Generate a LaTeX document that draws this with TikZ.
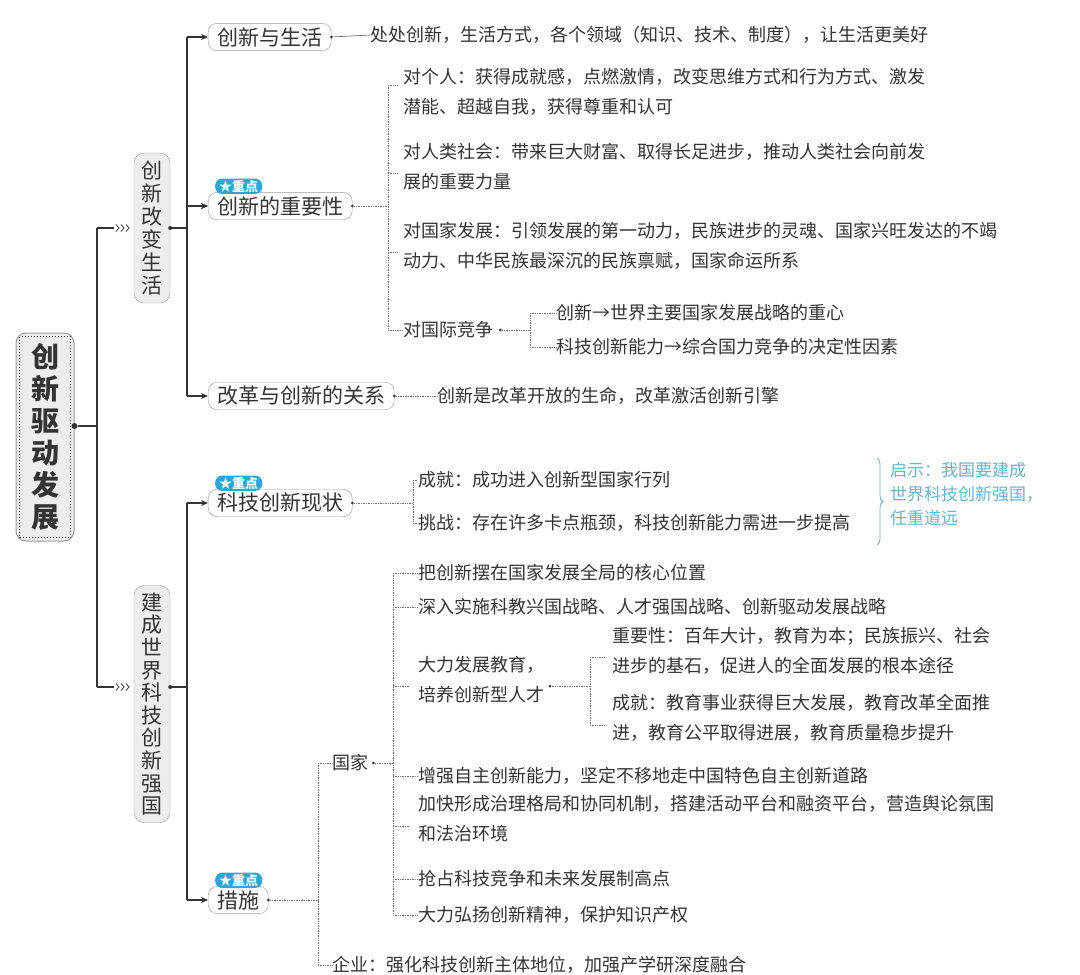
\documentclass[tikz,border=0pt]{standalone}
\usepackage{fontspec}
\setmainfont{Noto Sans CJK SC}
\usetikzlibrary{arrows.meta,decorations.pathreplacing}
\definecolor{ln}{HTML}{333333}
\definecolor{bd}{HTML}{9A9A9A}
\definecolor{bl}{HTML}{2AA7DA}
\definecolor{hw}{HTML}{5FB6D4}
\tikzset{
 txt/.style={anchor=west,inner sep=0pt,font=\fontsize{18}{30}\selectfont,text=ln,align=left},
 topic/.style={draw=bd,rounded corners=9pt,fill=white,inner xsep=9pt,inner ysep=4pt,font=\fontsize{21}{24}\selectfont,text=ln},
 vbox/.style={draw=bd,rounded corners=10pt,fill=black!7,inner xsep=5pt,inner ysep=7pt,align=center,text=ln},
 main/.style={ln,line width=1.2pt},
 arr/.style={main,-{Stealth[length=7pt,width=6pt]}},
 dl/.style={ln!70,densely dotted,line width=0.7pt},
 dot/.style={circle,fill=ln,inner sep=0pt,minimum size=4pt},
 badge/.style={fill=bl,rounded corners=7pt,text=white,font=\bfseries\fontsize{13}{14}\selectfont,inner xsep=4pt,inner ysep=1.5pt},
}
\newcommand{\chev}[2]{\foreach \k in {0,5,10}{\draw[ln,line width=0.8pt] (#1+\k,#2-3.5) -- (#1+\k+3,#2) -- (#1+\k,#2+3.5);}}
\begin{document}
\begin{tikzpicture}[x=1pt,y=-1pt]
\useasboundingbox (0,0) rectangle (1080,975);
% root
\node[vbox,minimum width=58pt,minimum height=208pt,line width=1pt,font=\bfseries\fontsize{28}{32}\selectfont] (root) at (45,437) {创\\新\\驱\\动\\发\\展};
\draw[ln,line width=1pt,dotted] ([shift={(4,4)}]root.north west) rectangle ([shift={(-4,-4)}]root.south east);
\node[dot,minimum size=6pt] (rd) at (root.east|-0,426) {};
\coordinate (t1) at (97,228); \coordinate (t2) at (97,687);
\draw[main] (rd) -- (97,426);
\draw[main] (t1) -- (t2);
% level 1
\node[vbox,minimum width=36pt,minimum height=150pt,font=\fontsize{21}{23}\selectfont] (b1) at (152,228) {创\\新\\改\\变\\生\\活};
\node[vbox,minimum width=36pt,minimum height=237pt,font=\fontsize{21}{22.6}\selectfont] (b2) at (152,704) {建\\成\\世\\界\\科\\技\\创\\新\\强\\国};
\draw[main] (t1) -- (114,228); \chev{116}{228}
\draw[main] (t2) -- (114,687); \chev{116}{687}
\node[dot] (b1d) at (b1.east|-t1) {};
\node[dot] (b2d) at (b2.east|-t2) {};
\coordinate (s1) at (187,37); \coordinate (s2) at (187,396);
\coordinate (s3) at (187,503); \coordinate (s4) at (187,900);
\draw[main] (b1d) -- (187,228); \draw[main] (s1) -- (s2);
\draw[main] (b2d) -- (187,687); \draw[main] (s3) -- (s4);
% level 2
\node[topic,anchor=west] (c1) at (208,37) {创新与生活};
\node[topic,anchor=west] (c2) at (208,206) {创新的重要性};
\node[topic,anchor=west] (c3) at (208,396) {改革与创新的关系};
\node[topic,anchor=west] (c4) at (208,503) {科技创新现状};
\node[topic,anchor=west] (c5) at (208,900) {措施};
\foreach \c/\s in {c1/s1,c2/s2,c3/s2,c4/s3,c5/s4}{\draw[arr] (\s|-\c) -- (\c.west);}
\draw[arr] (187,206) -- (c2.west);
\foreach \c in {c2,c4,c5}{\node[badge,anchor=south west] at ([shift={(7,2)}]\c.north west) {★重点};}
% c1
\node[dot,minimum size=3pt] (c1d) at (c1.east) {};
\node[txt] (x1) at (370,35) {处处创新，生活方式，各个领域（知识、技术、制度），让生活更美好};
\draw[ln!80,line width=0.6pt] (c1d) -- (x1.west);
% c2
\node[dot,minimum size=3pt] (c2d) at (c2.east) {};
\draw[dl] (c2d) -- (388,206); \draw[dl] (388,85) -- (388,330);
\node[txt,anchor=north west] (p1) at (403,68) {对个人：获得成就感，点燃激情，改变思维方式和行为方式、激发\\潜能、超越自我，获得尊重和认可};
\node[txt,anchor=north west] (p2) at (403,143) {对人类社会：带来巨大财富、取得长足进步，推动人类社会向前发\\展的重要力量};
\node[txt,anchor=north west] (p3) at (403,222) {对国家发展：引领发展的第一动力，民族进步的灵魂、国家兴旺发达的不竭\\动力、中华民族最深沉的民族禀赋，国家命运所系};
\node[txt] (p4) at (403,330) {对国际竞争};
\foreach \y in {85,173,252}{\draw[dl] (388,\y) -- (398,\y);}
\draw[dl] (388,330) -- (p4.west);
\node[dot,minimum size=3pt] (p4d) at ([xshift=7pt]p4.east) {};
\draw[dl] (p4d) -- (530,330); \draw[dl] (530,313) -- (530,347);
\node[txt] (q1) at (556,313) {创新→世界主要国家发展战略的重心};
\node[txt] (q2) at (556,347) {科技创新能力→综合国力竞争的决定性因素};
\draw[dl] (530,313) -- (q1.west); \draw[dl] (530,347) -- (q2.west);
% c3
\node[dot,minimum size=3pt] (c3d) at (c3.east) {};
\node[txt] (r1) at (437,396) {创新是改革开放的生命，改革激活创新引擎};
\draw[dl] (c3d) -- (r1.west);
% c4
\node[dot,minimum size=3pt] (c4d) at (c4.east) {};
\draw[dl] (c4d) -- (413,503); \draw[dl] (413,480) -- (413,523);
\node[txt] (k1) at (418,480) {成就：成功进入创新型国家行列};
\node[txt] (k2) at (418,523) {挑战：存在许多卡点瓶颈，科技创新能力需进一步提高};
\draw[dl] (413,480) -- (k1.west); \draw[dl] (413,523) -- (k2.west);
\draw[hw,line width=0.8pt,decorate,decoration={brace,amplitude=6pt}] (877,458) -- (877,545);
\node[anchor=north west,inner sep=0pt,align=left,text=hw,font=\fontsize{17}{24}\selectfont] (hwn) at (890,462) {启示：我国要建成\\世界科技创新强国，\\任重道远};
% c5
\node[dot,minimum size=3pt] (c5d) at (c5.east) {};
\draw[dl] (c5d) -- (318,900); \draw[dl] (318,763) -- (318,965);
\node[txt] (g) at (332,763) {国家};
\node[txt] (e) at (332,965) {企业：强化科技创新主体地位，加强产学研深度融合};
\draw[dl] (318,763) -- (g.west); \draw[dl] (318,965) -- (e.west);
\node[dot,minimum size=3pt] (gd) at ([xshift=5pt]g.east) {};
\draw[dl] (gd) -- (393,763); \draw[dl] (393,573) -- (393,915);
\node[txt] (m1) at (418,573) {把创新摆在国家发展全局的核心位置};
\node[txt] (m2) at (418,607) {深入实施科教兴国战略、人才强国战略、创新驱动发展战略};
\node[txt,anchor=north west] (m3) at (418,656) {大力发展教育，\\培养创新型人才};
\node[txt] (m4) at (418,776) {增强自主创新能力，坚定不移地走中国特色自主创新道路};
\node[txt,anchor=north west] (m5) at (418,795) {加快形成治理格局和协同机制，搭建活动平台和融资平台，营造舆论氛围\\和法治环境};
\node[txt] (m6) at (418,879) {抢占科技竞争和未来发展制高点};
\node[txt] (m7) at (418,915) {大力弘扬创新精神，保护知识产权};
\foreach \m in {m1,m2,m4,m6,m7}{\draw[dl] (393,0|-\m.west) -- (\m.west);}
\draw[dl] (393,686) -- (410,686); \draw[dl] (393,826) -- (410,826);
\node[dot,minimum size=3pt] (m3d) at (550,686) {};
\draw[dl] (m3d) -- (590,686); \draw[dl] (590,657) -- (590,725);
\node[txt,anchor=north west] (n1) at (612,627) {重要性：百年大计，教育为本；民族振兴、社会\\进步的基石，促进人的全面发展的根本途径};
\node[txt,anchor=north west] (n2) at (612,694) {成就：教育事业获得巨大发展，教育改革全面推\\进，教育公平取得进展，教育质量稳步提升};
\draw[dl] (590,657) -- (605,657); \draw[dl] (590,725) -- (605,725);
\end{tikzpicture}
\end{document}
